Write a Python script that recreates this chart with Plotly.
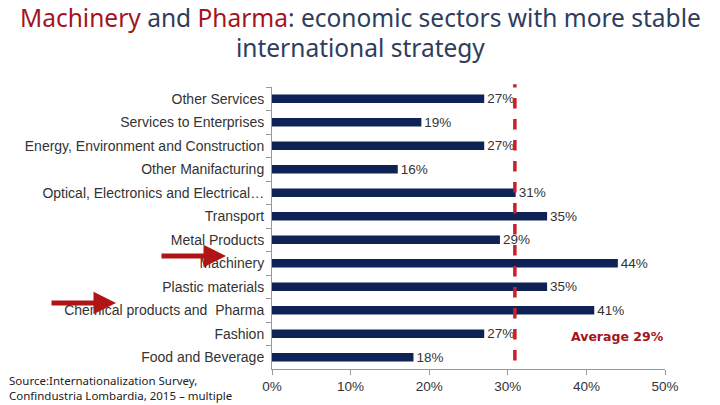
import plotly.graph_objects as go

categories = ["Other Services", "Services to Enterprises", "Energy, Environment and Construction",
              "Other Manifacturing", "Optical, Electronics and Electrical…", "Transport",
              "Metal Products", "Machinery", "Plastic materials", "Chemical products and  Pharma",
              "Fashion", "Food and Beverage"]
values = [27, 19, 27, 16, 31, 35, 29, 44, 35, 41, 27, 18]
x_ticks = [0, 10, 20, 30, 40, 50]
average_line_x = 30.9
average_label = "Average 29%"

fig = go.Figure()
fig.add_trace(go.Bar(
    y=categories, x=values, orientation="h",
    marker=dict(color="#0e2256", line=dict(width=0)),
    width=0.36,
    text=[f"{v}%" for v in values], textposition="outside", constraintext="none",
    textfont=dict(family="Liberation Sans, Arial", size=13.5, color="#333333"),
    cliponaxis=False,
))

fig.add_shape(type="line", xref="x", yref="paper", x0=average_line_x, x1=average_line_x,
              y0=0.03, y1=1.01, line=dict(color="#c8202a", width=3.5, dash="dash"))

fig.update_layout(
    width=720, height=405,
    margin=dict(l=272, r=55, t=87, b=36),
    plot_bgcolor="white", paper_bgcolor="white",
    showlegend=False,
    bargap=0.6,
    xaxis=dict(range=[0, 50], tickvals=x_ticks, ticktext=[f"{t}%" for t in x_ticks],
               showgrid=False, zeroline=False, showline=True, linecolor="#999999",
               ticks="outside", ticklen=5, tickcolor="#999999",
               tickfont=dict(family="Liberation Sans, Arial", size=13.5, color="#333333")),
    yaxis=dict(categoryorder="array", categoryarray=categories, autorange="reversed",
               showgrid=False, showline=True, linecolor="#999999",
               ticks="outside", ticklen=5, tickcolor="#999999", tickson="boundaries",
               ticklabelstandoff=4,
               tickfont=dict(family="Liberation Sans, Arial", size=14, color="#333333")),
)

title_font = dict(family="Noto Sans", size=24.5, color="#2e3d5c")
fig.add_annotation(xref="paper", yref="paper", x=(360 - 272) / 393, y=1 + (87 - 18) / 282,
                   xanchor="center", yanchor="middle", showarrow=False, font=title_font,
                   text="<span style='color:#a3141c'>Machinery</span> and "
                        "<span style='color:#a3141c'>Pharma</span>: economic sectors with more stable")
fig.add_annotation(xref="paper", yref="paper", x=(360 - 272) / 393, y=1 + (87 - 47) / 282,
                   xanchor="center", yanchor="middle", showarrow=False, font=title_font,
                   text="international strategy")

fig.add_annotation(xref="paper", yref="paper", x=0.878, y=(369 - 336) / 282,
                   xanchor="center", yanchor="middle", showarrow=False,
                   font=dict(family="DejaVu Sans", size=12.5, color="#a3141c", weight="bold"),
                   text=average_label)

fig.add_annotation(xref="paper", yref="paper", x=(7 - 272) / 393, y=(369 - 371) / 282,
                   xanchor="left", yanchor="top", align="left", showarrow=False,
                   font=dict(family="Noto Sans", size=11.5, color="#222222"),
                   text="Source:Internationalization Survey,<br>Confindustria Lombardia, 2015 – multiple<br>choice")

for tip_x, tip_y in [(226, 256), (116, 303)]:
    fig.add_annotation(xref="paper", yref="paper", x=(tip_x - 272) / 393, y=(369 - tip_y) / 282,
                       ax=-66, ay=0, text="", showarrow=True, arrowhead=2, arrowsize=0.9,
                       arrowwidth=5, arrowcolor="#b01515")

fig.write_html("out.html", config={"displayModeBar": False},
               post_script="document.body.style.margin='0';")
